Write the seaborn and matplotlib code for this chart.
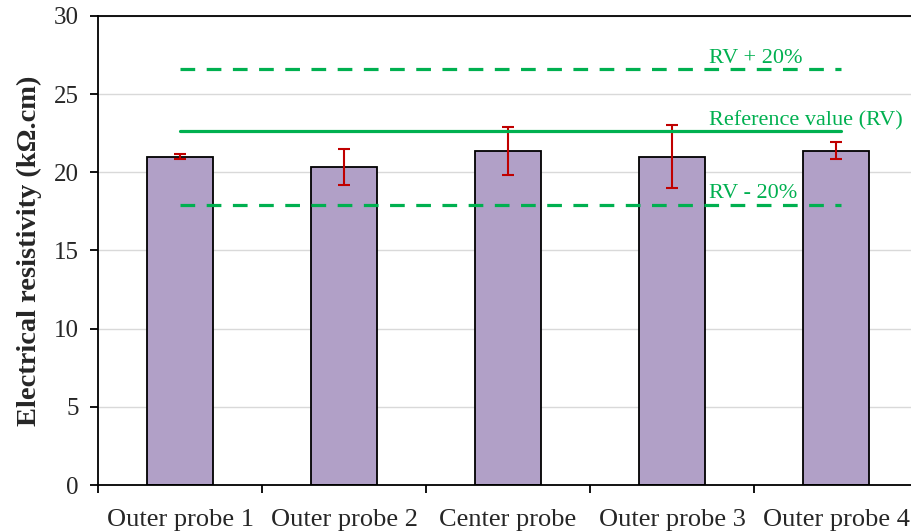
import matplotlib
matplotlib.use("Agg")
import matplotlib.pyplot as plt
import seaborn as sns
import pandas as pd
import numpy as np

# Measured resistivity per probe (kΩ.cm) with standard deviation
probes = ["Outer probe 1", "Outer probe 2", "Center probe", "Outer probe 3", "Outer probe 4"]
resistivity = [21.0, 20.35, 21.38, 21.0, 21.38]
std_dev = [0.17, 1.15, 1.52, 2.0, 0.56]

# Reference value and ±20 % acceptance band
ref_value = 22.65
ref_upper = 26.6
ref_lower = 17.9
ref_span = [0.0, 4.03]

sns.set_style("white")
plt.rcParams["font.family"] = ["Liberation Serif", "DejaVu Serif"]

bar_color = "#b1a0c7"
green = "#00b050"
red = "#c00000"

df = pd.DataFrame({"probe": probes, "value": resistivity})

fig = plt.figure(figsize=(9.11, 5.32), dpi=100)
ax = fig.add_axes([0.1076, 0.0883, 0.9001, 0.8817])

ax.yaxis.grid(True, color="#d9d9d9", linewidth=1.0)
ax.set_axisbelow(True)

sns.barplot(data=df, x="probe", y="value", color=bar_color, width=0.4,
            edgecolor="black", linewidth=1.3, saturation=1, ax=ax, zorder=2)

ax.errorbar(np.arange(len(probes)), resistivity, yerr=std_dev, fmt="none",
            ecolor=red, elinewidth=1.5, capsize=4, capthick=1.5, zorder=3)

ax.plot(ref_span, [ref_upper, ref_upper], color=green, linewidth=2.3,
        dashes=(4.6, 3.6), zorder=4)
ax.plot(ref_span, [ref_value, ref_value], color=green, linewidth=2.3, zorder=4)
ax.plot(ref_span, [ref_lower, ref_lower], color=green, linewidth=2.3,
        dashes=(4.6, 3.6), zorder=4)

ax.text(3.226, 27.0, "RV + 20%", color=green, fontsize=16, ha="left", va="baseline", zorder=5)
ax.text(3.226, 22.97, "Reference value (RV)", color=green, fontsize=16, ha="left", va="baseline", zorder=5)
ax.text(3.226, 18.36, "RV - 20%", color=green, fontsize=16, ha="left", va="baseline", zorder=5)

ax.set_xlim(-0.5, 4.5)
ax.set_ylim(0, 30)
ax.set_yticks(np.arange(0, 31, 5))
ax.tick_params(axis="y", direction="out", length=6, width=1.3, color="black",
               labelsize=18, pad=8, left=True)

# Category boundaries carry the tick marks; labels sit at the bar centres
ax.set_xticks(np.arange(-0.5, 5.0, 1.0))
ax.set_xticklabels([])
ax.set_xticks(np.arange(len(probes)), minor=True)
ax.set_xticklabels(probes, minor=True)
ax.tick_params(axis="x", which="major", direction="out", length=6, width=1.3,
               color="black", bottom=True)
ax.tick_params(axis="x", which="minor", length=0, labelsize=19, pad=17)

ax.set_xlabel("")
ax.set_ylabel("Electrical resistivity (kΩ.cm)", fontsize=20.5, fontweight="bold", labelpad=8)

for side in ["left", "bottom", "top", "right"]:
    ax.spines[side].set_visible(True)
    ax.spines[side].set_color("black")
    ax.spines[side].set_linewidth(1.3)

fig.savefig("out.png", dpi=100)
